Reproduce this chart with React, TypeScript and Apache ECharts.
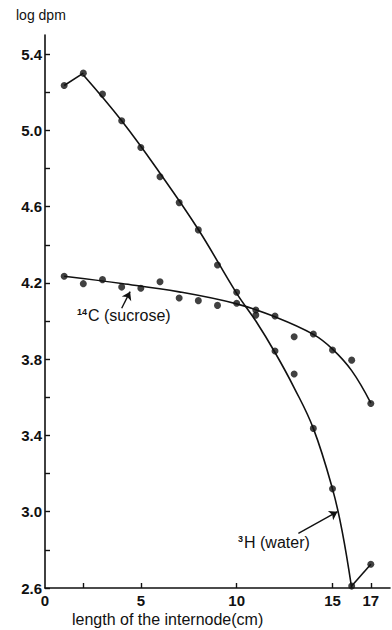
import React, { useEffect, useRef } from "react";
import * as echarts from "echarts";

// ---- data ----
const lengthsCm = [1, 2, 3, 4, 5, 6, 7, 8, 9, 10, 11, 12, 13, 14, 15, 16, 17];
const waterLogDpm = [5.235, 5.3, 5.19, 5.05, 4.91, 4.757, 4.621, 4.478, 4.294, 4.151, 4.031, 3.843, 3.722, 3.437, 3.12, 2.61, 2.725];
const sucroseLogDpm = [4.235, 4.196, 4.217, 4.178, 4.172, 4.206, 4.121, 4.107, 4.082, 4.093, 4.058, 4.026, 3.918, 3.932, 3.848, 3.795, 3.568];

// hand-drawn fitted curves
const waterFitX = [2, 4, 6, 8, 10, 11, 12, 13, 14, 15, 15.5, 16];
const waterFitY = [5.29, 5.05, 4.775, 4.48, 4.145, 4.0, 3.835, 3.65, 3.437, 3.12, 2.9, 2.6];
const sucroseFitX = [1, 4, 7, 10, 12, 14, 15, 16, 17];
const sucroseFitY = [4.235, 4.197, 4.153, 4.09, 4.022, 3.93, 3.853, 3.74, 3.57];

// axes
const xLabelValues = [0, 5, 10, 15, 17];
const xTickValues = [2, 5, 10, 15, 17];
const yLabelValues = [2.6, 3.0, 3.4, 3.8, 4.2, 4.6, 5.0, 5.4];
const yTickValues = [2.6, 2.8, 3.0, 3.2, 3.4, 3.6, 3.8, 4.0, 4.2, 4.4, 4.6, 4.8, 5.0, 5.2, 5.4];

// annotation arrows: [tail, tip] in data units
const sucroseArrow = [[4.0, 4.067], [4.44, 4.154]];
const waterArrow = [[13.22, 2.886], [15.26, 3.0]];

const INK = "#111";
const FONT = "'Liberation Sans', Arial, Helvetica, sans-serif";

export default function App() {
  const ref = useRef<HTMLDivElement>(null);
  useEffect(() => {
    document.body.style.margin = "0";
    if (!ref.current) return;
    const chart = echarts.init(ref.current, undefined, { renderer: "svg" });
    const zip = (xs: number[], ys: number[]) => xs.map((x, i) => [x, ys[i]]);
    const waterPts = zip(lengthsCm, waterLogDpm);
    const sucrosePts = zip(lengthsCm, sucroseLogDpm);
    const lineStyle = { color: INK, width: 1.6 };
    const arrowLine = (a: number[][]) => ({
      silent: true,
      symbol: ["none", "arrow"],
      symbolSize: 8,
      label: { show: false },
      lineStyle: { color: INK, width: 1.4, type: "solid" },
      data: [[{ coord: a[0] }, { coord: a[1] }]],
    });
    const rich = {
      s: { fontSize: 9, fontWeight: "bold", fontFamily: FONT, verticalAlign: "top", fill: INK, padding: [0, 1, 7, 0] },
      m: { fontSize: 16, fontFamily: FONT, fill: INK },
    };
    chart.setOption({
      animation: false,
      grid: { left: 45, right: 2, top: 35, bottom: 42 },
      xAxis: {
        type: "value",
        min: 0,
        max: 18,
        interval: 1,
        splitLine: { show: false },
        axisLine: { lineStyle: { color: INK, width: 1.6 } },
        axisTick: { inside: true, length: 5, customValues: xTickValues, lineStyle: { color: INK, width: 1.4 } },
        axisLabel: {
          customValues: xLabelValues,
          color: INK,
          fontFamily: FONT,
          fontWeight: "bold",
          fontSize: 15,
          margin: 5,
        },
      },
      yAxis: {
        type: "value",
        min: 2.6,
        max: 5.5,
        interval: 0.2,
        splitLine: { show: false },
        axisLine: { lineStyle: { color: INK, width: 1.6 } },
        axisTick: { inside: true, length: 5, customValues: yTickValues, lineStyle: { color: INK, width: 1.4 } },
        axisLabel: {
          customValues: yLabelValues,
          formatter: (v: number) => v.toFixed(1),
          color: INK,
          fontFamily: FONT,
          fontWeight: "bold",
          fontSize: 15,
          margin: 3,
        },
      },
      series: [
        { type: "line", data: waterPts.slice(0, 2), showSymbol: false, lineStyle, z: 2 },
        {
          type: "line",
          data: zip(waterFitX, waterFitY),
          smooth: 0.4,
          showSymbol: false,
          lineStyle,
          z: 2,
          markLine: arrowLine(waterArrow),
        },
        { type: "line", data: waterPts.slice(15, 17), showSymbol: false, lineStyle, z: 2 },
        {
          type: "line",
          data: zip(sucroseFitX, sucroseFitY),
          smooth: 0.4,
          showSymbol: false,
          lineStyle,
          z: 2,
          markLine: arrowLine(sucroseArrow),
        },
        { type: "scatter", data: waterPts, symbolSize: 7, itemStyle: { color: INK }, clip: false, z: 3 },
        { type: "scatter", data: sucrosePts, symbolSize: 7, itemStyle: { color: INK }, clip: false, z: 3 },
      ],
      graphic: [
        { type: "text", left: 16, top: 8, style: { text: "log dpm", font: `14px ${FONT}`, fill: INK } },
        { type: "text", left: 77, top: 307, style: { text: "{s|14}{m|C (sucrose)}", fill: INK, rich } },
        { type: "text", left: 238, top: 534, style: { text: "{s|3}{m|H (water)}", fill: INK, rich } },
        {
          type: "text",
          left: 72,
          top: 611,
          style: { text: "length of the internode(cm)", font: `16px ${FONT}`, fill: INK },
        },
      ],
    });
    return () => chart.dispose();
  }, []);
  return <div ref={ref} style={{ width: 392, height: 630 }} />;
}
